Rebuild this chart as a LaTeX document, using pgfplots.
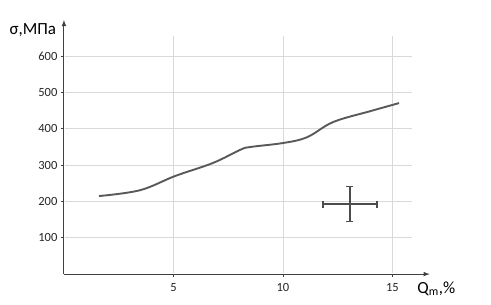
\documentclass[border=0pt]{standalone}
\usepackage{fontspec}
\setmainfont{Carlito}
\usepackage{pgfplots}
\pgfplotsset{compat=1.18}
\begin{document}
\begin{tikzpicture}
\begin{axis}[
  scale only axis, width=365.7pt, height=254.1pt,
  xmin=0, xmax=16.7, ymin=0, ymax=700,
  axis lines=left,
  axis line style={draw=black!75, line width=1.1pt, -{latex}},
  clip=false,
  xtick={5,10,15}, ytick={100,200,300,400,500,600},
  tick style={draw=black!75, line width=0.8pt},
  tick align=outside, major tick length=3pt,
  ticklabel style={font=\fontsize{12.5}{13}\selectfont, text=black!85},
  xticklabel style={yshift=-3pt},
  /pgf/number format/assume math mode=true,
  xtick pos=bottom, ytick pos=left,
  axis on top=true,
]
\pgfplotsinvokeforeach{100,200,300,400,500,600}{
  \draw[black!15, line width=0.9pt] (axis cs:0.05,#1) -- (axis cs:15.9,#1);
}
\pgfplotsinvokeforeach{5,10,15}{
  \draw[black!15, line width=0.9pt] (axis cs:#1,2) -- (axis cs:#1,655);
}
\addplot[draw=black!65, line width=1.9pt, smooth, tension=0.6] coordinates {
 (1.6,215) (3.47,231) (5.07,270) (6.8,306) (8.04,342) (8.5,350) (10.0,361) (11.1,377) (12.3,419) (14.0,449) (15.3,471)
};
\addplot[draw=black!70, line width=1.3pt, mark=none,
  error bars/.cd, x dir=both, y dir=both, x explicit, y explicit,
  error bar style={line width=1.3pt, draw=black!70},
  error mark options={rotate=90, mark size=3.5pt, line width=1.3pt, draw=black!70}]
  coordinates {(13.06,193) +- (1.23,48)};
\node[anchor=center, font=\fontsize{17}{18}\selectfont] at (axis cs:-1.42,672) {σ,МПа};
\node[anchor=center, font=\fontsize{17}{18}\selectfont] at (axis cs:17.0,-40) {Q\textsubscript{m},\%};
\path[use as bounding box] (axis cs:-2.92,-82.6) rectangle (axis cs:19.5,755);
\end{axis}
\end{tikzpicture}
\end{document}
